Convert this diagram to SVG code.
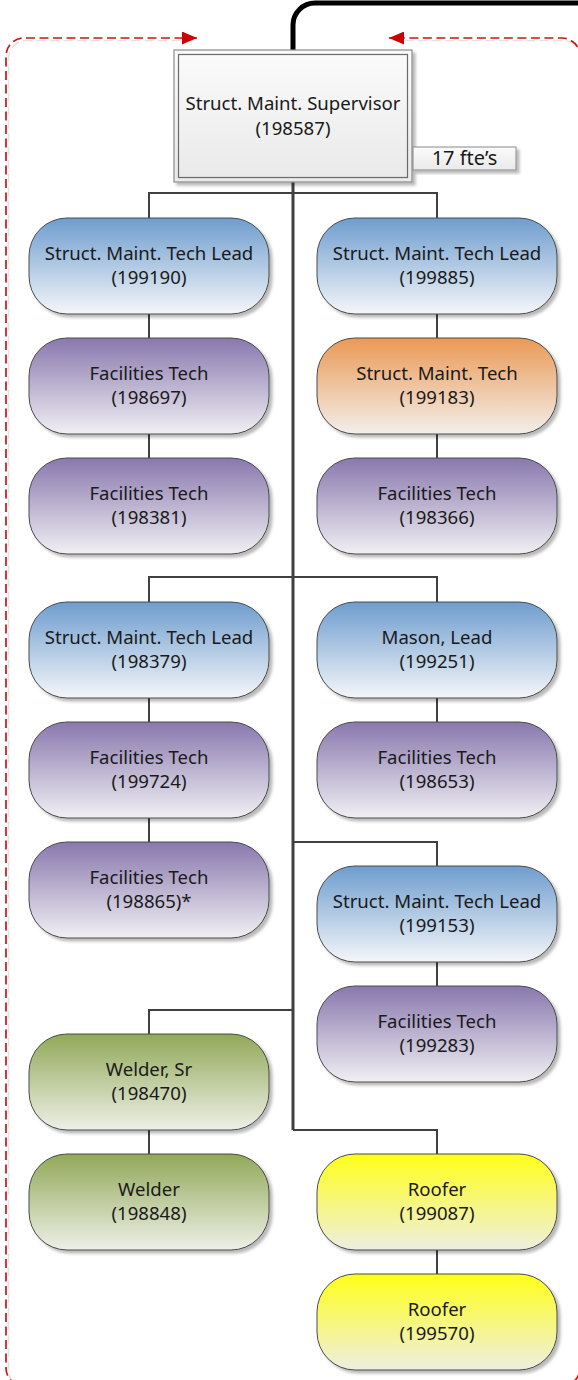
<svg xmlns="http://www.w3.org/2000/svg" width="578" height="1380" viewBox="0 0 578 1380">
  <defs>
    <style>
      .lbl { font-family: "Noto Sans", "Open Sans", "Liberation Sans", sans-serif; font-size: 18.6px; fill: #1a1a1a; text-anchor: middle; }
      .pill { stroke: #4a4a4a; stroke-width: 1; filter: url(#shadow); }
      .wire { fill: none; stroke: #404040; stroke-width: 2; }
      .trunk { fill: none; stroke: #404040; stroke-width: 3; }
      .frame { fill: none; stroke: #cc1515; stroke-width: 1.7; stroke-dasharray: 9 4.5; }
      .frameShade { fill: none; stroke: #e2e2e2; stroke-width: 1.5; stroke-dasharray: 9 4.5; }
    </style>
    <filter id="shadow" x="-10%" y="-10%" width="125%" height="130%">
      <feDropShadow dx="3" dy="3" stdDeviation="1.4" flood-color="#000" flood-opacity="0.28"/>
    </filter>
    <linearGradient id="gBlue" x1="0" y1="0" x2="0" y2="1">
      <stop offset="0" stop-color="#6e9dce"/>
      <stop offset="1" stop-color="#f4f6f9"/>
    </linearGradient>
    <linearGradient id="gPurple" x1="0" y1="0" x2="0" y2="1">
      <stop offset="0" stop-color="#8878ad"/>
      <stop offset="1" stop-color="#f1eff4"/>
    </linearGradient>
    <linearGradient id="gOrange" x1="0" y1="0" x2="0" y2="1">
      <stop offset="0" stop-color="#ea9955"/>
      <stop offset="1" stop-color="#f3efeb"/>
    </linearGradient>
    <linearGradient id="gGreen" x1="0" y1="0" x2="0" y2="1">
      <stop offset="0" stop-color="#91a858"/>
      <stop offset="1" stop-color="#eef0e8"/>
    </linearGradient>
    <linearGradient id="gYellow" x1="0" y1="0" x2="0" y2="1">
      <stop offset="0" stop-color="#ffff18"/>
      <stop offset="1" stop-color="#eeeee2"/>
    </linearGradient>
    <linearGradient id="gGrey" x1="0" y1="0" x2="0" y2="1">
      <stop offset="0" stop-color="#fbfbfb"/>
      <stop offset="1" stop-color="#e9e9e9"/>
    </linearGradient>
    <marker id="redArrow" viewBox="0 0 10 10" refX="10" refY="5" markerWidth="15" markerHeight="13" markerUnits="userSpaceOnUse" orient="auto-start-reverse" preserveAspectRatio="none">
      <path d="M0,0 L10,5 L0,10 Z" fill="#cc0000"/>
    </marker>
  </defs>

  <!-- dashed boundary around the team -->
  <path class="frameShade" d="M194,40.5 H26 A18 18 0 0 0 8.5 58 V1370 A18 18 0 0 0 26 1388 H564 A18 18 0 0 0 582 1370 V58 A18 18 0 0 0 564 40.5 H392"/>
  <path class="frame" d="M197,38 H24 A18 18 0 0 0 6 56 V1368 A18 18 0 0 0 24 1386 H562 A18 18 0 0 0 580 1368 V56 A18 18 0 0 0 562 38 H389" marker-start="url(#redArrow)" marker-end="url(#redArrow)"/>

  <!-- reporting line to the level above -->
  <path d="M293,50 V25 A22 22 0 0 1 315 3 H582" fill="none" stroke="#000" stroke-width="5" stroke-linecap="round"/>

  <g id="connectors">
    <path class="trunk" d="M293,182 V1130"/>
    <path class="wire" d="M149,218 V193 H437 V218"/>
    <path class="wire" d="M149,314 V338 M149,434 V458"/>
    <path class="wire" d="M437,314 V338 M437,434 V458"/>
    <path class="wire" d="M149,602 V577 H437 V602"/>
    <path class="wire" d="M149,698 V722 M149,818 V842"/>
    <path class="wire" d="M437,698 V722"/>
    <path class="wire" d="M293,842 H437 V866 M437,962 V986"/>
    <path class="wire" d="M293,1010 H149 V1034 M149,1130 V1154"/>
    <path class="wire" d="M293,1130 H437 V1154 M437,1250 V1274"/>
  </g>

  <g id="supervisor">
    <rect x="174" y="50" width="238" height="132" fill="url(#gGrey)" stroke="#8a8a8a" stroke-width="1.2" filter="url(#shadow)"/>
    <rect x="178.5" y="54.5" width="229" height="123" fill="none" stroke="#6a6a6a" stroke-width="1.2"/>
    <text class="lbl" x="293" y="110">Struct. Maint. Supervisor</text>
    <text class="lbl" x="293" y="135">(198587)</text>
  </g>

  <g id="fte-count">
    <rect x="413" y="147" width="103" height="23" fill="url(#gGrey)" stroke="#8a8a8a" stroke-width="1" filter="url(#shadow)"/>
    <text class="lbl" x="464.5" y="165" style="font-size:20px">17 fte’s</text>
  </g>

  <g id="lead-199190" transform="translate(29,218)">
    <rect class="pill" width="240" height="96" rx="38" fill="url(#gBlue)"/>
    <text class="lbl" x="120" y="42">Struct. Maint. Tech Lead</text>
    <text class="lbl" x="120" y="66">(199190)</text>
  </g>
  <g id="tech-198697" transform="translate(29,338)">
    <rect class="pill" width="240" height="96" rx="38" fill="url(#gPurple)"/>
    <text class="lbl" x="120" y="42">Facilities Tech</text>
    <text class="lbl" x="120" y="66">(198697)</text>
  </g>
  <g id="tech-198381" transform="translate(29,458)">
    <rect class="pill" width="240" height="96" rx="38" fill="url(#gPurple)"/>
    <text class="lbl" x="120" y="42">Facilities Tech</text>
    <text class="lbl" x="120" y="66">(198381)</text>
  </g>

  <g id="lead-199885" transform="translate(317,218)">
    <rect class="pill" width="240" height="96" rx="38" fill="url(#gBlue)"/>
    <text class="lbl" x="120" y="42">Struct. Maint. Tech Lead</text>
    <text class="lbl" x="120" y="66">(199885)</text>
  </g>
  <g id="smtech-199183" transform="translate(317,338)">
    <rect class="pill" width="240" height="96" rx="38" fill="url(#gOrange)"/>
    <text class="lbl" x="120" y="42">Struct. Maint. Tech</text>
    <text class="lbl" x="120" y="66">(199183)</text>
  </g>
  <g id="tech-198366" transform="translate(317,458)">
    <rect class="pill" width="240" height="96" rx="38" fill="url(#gPurple)"/>
    <text class="lbl" x="120" y="42">Facilities Tech</text>
    <text class="lbl" x="120" y="66">(198366)</text>
  </g>

  <g id="lead-198379" transform="translate(29,602)">
    <rect class="pill" width="240" height="96" rx="38" fill="url(#gBlue)"/>
    <text class="lbl" x="120" y="42">Struct. Maint. Tech Lead</text>
    <text class="lbl" x="120" y="66">(198379)</text>
  </g>
  <g id="tech-199724" transform="translate(29,722)">
    <rect class="pill" width="240" height="96" rx="38" fill="url(#gPurple)"/>
    <text class="lbl" x="120" y="42">Facilities Tech</text>
    <text class="lbl" x="120" y="66">(199724)</text>
  </g>
  <g id="tech-198865" transform="translate(29,842)">
    <rect class="pill" width="240" height="96" rx="38" fill="url(#gPurple)"/>
    <text class="lbl" x="120" y="42">Facilities Tech</text>
    <text class="lbl" x="120" y="66">(198865)*</text>
  </g>

  <g id="mason-199251" transform="translate(317,602)">
    <rect class="pill" width="240" height="96" rx="38" fill="url(#gBlue)"/>
    <text class="lbl" x="120" y="42">Mason, Lead</text>
    <text class="lbl" x="120" y="66">(199251)</text>
  </g>
  <g id="tech-198653" transform="translate(317,722)">
    <rect class="pill" width="240" height="96" rx="38" fill="url(#gPurple)"/>
    <text class="lbl" x="120" y="42">Facilities Tech</text>
    <text class="lbl" x="120" y="66">(198653)</text>
  </g>

  <g id="lead-199153" transform="translate(317,866)">
    <rect class="pill" width="240" height="96" rx="38" fill="url(#gBlue)"/>
    <text class="lbl" x="120" y="42">Struct. Maint. Tech Lead</text>
    <text class="lbl" x="120" y="66">(199153)</text>
  </g>
  <g id="tech-199283" transform="translate(317,986)">
    <rect class="pill" width="240" height="96" rx="38" fill="url(#gPurple)"/>
    <text class="lbl" x="120" y="42">Facilities Tech</text>
    <text class="lbl" x="120" y="66">(199283)</text>
  </g>

  <g id="welder-sr-198470" transform="translate(29,1034)">
    <rect class="pill" width="240" height="96" rx="38" fill="url(#gGreen)"/>
    <text class="lbl" x="120" y="42">Welder, Sr</text>
    <text class="lbl" x="120" y="66">(198470)</text>
  </g>
  <g id="welder-198848" transform="translate(29,1154)">
    <rect class="pill" width="240" height="96" rx="38" fill="url(#gGreen)"/>
    <text class="lbl" x="120" y="42">Welder</text>
    <text class="lbl" x="120" y="66">(198848)</text>
  </g>

  <g id="roofer-199087" transform="translate(317,1154)">
    <rect class="pill" width="240" height="96" rx="38" fill="url(#gYellow)"/>
    <text class="lbl" x="120" y="42">Roofer</text>
    <text class="lbl" x="120" y="66">(199087)</text>
  </g>
  <g id="roofer-199570" transform="translate(317,1274)">
    <rect class="pill" width="240" height="96" rx="38" fill="url(#gYellow)"/>
    <text class="lbl" x="120" y="42">Roofer</text>
    <text class="lbl" x="120" y="66">(199570)</text>
  </g>
</svg>
